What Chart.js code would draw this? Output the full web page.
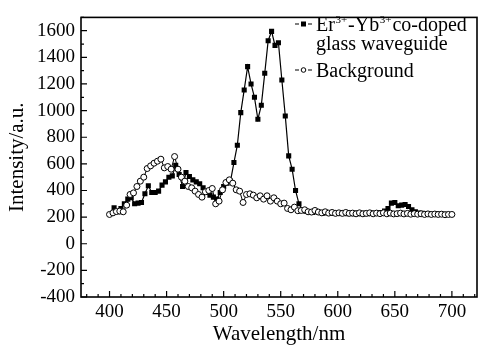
<!DOCTYPE html>
<html>
<head>
<meta charset="utf-8">
<script src="https://cdn.jsdelivr.net/npm/chart.js@4/dist/chart.umd.min.js"></script>
<style>
html,body{margin:0;padding:0;background:#fff;}
#wrap{width:482px;height:349px;position:relative;}
</style>
</head>
<body>
<div id="wrap"><canvas id="c" width="482" height="349"></canvas></div>
<script>
// ---- data ----
const erWavelength = [404,407,410,413,416,419,422,425,428,431,434,437,440,443,446,449,452,455,458,461,464,467,470,473,476,479,482,485,488,491,494,497,500,503,506,509,512,515,518,521,524,527,530,533,536,539,542,545,548,551,554,557,560,563,566,569,572,575,578,581,584,587,590,593,596,599,602,605,608,611,614,617,620,623,626,629,632,635,638,641,644,647,650,653,656,659,662,665,668,671,674,677,680,683,686,689,692,695,698];
const erIntensity = [270,240,265,300,335,345,300,305,310,375,435,385,385,395,440,465,500,510,590,520,430,535,505,480,465,450,420,385,365,350,335,385,430,455,470,610,740,985,1155,1330,1200,1100,935,1040,1280,1525,1595,1490,1510,1230,960,660,560,400,300,255,245,240,235,240,235,230,235,230,228,232,228,230,225,228,225,230,225,228,225,230,228,232,235,245,265,305,310,285,290,295,280,255,240,230,228,225,225,222,225,222,220,222,220];
const bgWavelength = [400,403,406,409,412,415,418,421,424,427,430,433,436,439,442,445,448,451,454,457,460,463,466,469,472,475,478,481,484,487,490,493,496,499,502,505,508,511,514,517,520,523,526,529,532,535,538,541,544,547,550,553,556,559,562,565,568,571,574,577,580,583,586,589,592,595,598,601,604,607,610,613,616,619,622,625,628,631,634,637,640,643,646,649,652,655,658,661,664,667,670,673,676,679,682,685,688,691,694,697,700];
const bgIntensity = [220,232,242,245,240,290,370,382,430,470,500,565,585,605,620,635,570,580,560,655,560,500,470,430,420,395,370,350,390,400,415,300,320,405,460,480,455,405,395,310,370,375,365,345,360,335,360,320,345,320,300,305,265,255,275,248,250,255,240,238,250,238,232,240,230,235,228,232,228,235,228,230,225,232,225,228,232,225,230,226,232,225,230,224,226,230,224,228,222,226,222,225,220,224,220,223,220,222,218,220,220];
const xTickLabels = [400,450,500,550,600,650,700];
const yTickLabels = [-400,-200,0,200,400,600,800,1000,1200,1400,1600];
const seriesNames = ["Er³⁺-Yb³⁺co-doped glass waveguide", "Background"];

const FONT = "'Liberation Serif','Times New Roman',serif";

function pairs(xs, ys){ return xs.map((x,i)=>({x:x, y:ys[i]})); }

const framePlugin = {
  id: 'frame',
  afterDatasetsDraw(chart){
    const ctx = chart.ctx, a = chart.chartArea;
    const xs = chart.scales.x, ys = chart.scales.y;
    ctx.save();
    ctx.strokeStyle = '#000';
    ctx.lineWidth = 1.6;
    ctx.strokeRect(a.left, a.top, a.right - a.left, a.bottom - a.top);
    ctx.lineWidth = 1.2;
    ctx.beginPath();
    for (let v = Math.ceil(xs.min/10)*10; v <= xs.max; v += 10){
      const px = xs.getPixelForValue(v);
      const len = (v % 50 === 0) ? 6 : 3;
      ctx.moveTo(px, a.bottom); ctx.lineTo(px, a.bottom - len);
    }
    for (let v = Math.ceil(ys.min/100)*100; v <= ys.max; v += 100){
      const py = ys.getPixelForValue(v);
      const len = (v % 200 === 0) ? 6 : 3;
      ctx.moveTo(a.left, py); ctx.lineTo(a.left + len, py);
    }
    ctx.stroke();
    ctx.restore();
  },
  afterDraw(chart){
    const ctx = chart.ctx;
    ctx.save();
    ctx.fillStyle = '#000';
    ctx.strokeStyle = '#000';
    ctx.textBaseline = 'alphabetic';
    const x0 = 295, tx = 316;
    function sample(y, filled){
      ctx.lineWidth = 1.2;
      ctx.beginPath();
      ctx.moveTo(x0, y); ctx.lineTo(x0+4, y);
      ctx.moveTo(x0+13, y); ctx.lineTo(x0+17, y);
      ctx.stroke();
      if (filled){
        ctx.fillRect(x0+6, y-2.5, 5, 5);
      } else {
        ctx.beginPath();
        ctx.arc(x0+8.5, y, 2.3, 0, Math.PI*2);
        ctx.fillStyle='#fff'; ctx.fill();
        ctx.lineWidth=1; ctx.stroke();
        ctx.fillStyle='#000';
      }
    }
    function seg(text, x, y, size){
      ctx.font = size + 'px ' + FONT;
      ctx.fillText(text, x, y);
      return x + ctx.measureText(text).width;
    }
    sample(24, true);
    let x = tx, base = 31;
    x = seg('Er', x, base, 20);
    x = seg('3+', x+0.5, base-8, 11);
    x = seg('-Yb', x+1, base, 20);
    x = seg('3+', x+0.5, base-8, 11);
    x = seg('co-doped', x+1, base, 20);
    seg('glass waveguide', tx, base+19, 20);
    sample(70, false);
    seg('Background', tx, 77, 20);
    ctx.restore();
  }
};

new Chart(document.getElementById('c'), {
  type: 'scatter',
  data: {
    datasets: [
      {
        label: seriesNames[1],
        data: pairs(bgWavelength, bgIntensity),
        showLine: true,
        borderColor: '#000',
        borderWidth: 1,
        pointStyle: 'circle',
        pointRadius: 3,
        pointBackgroundColor: '#fff',
        pointBorderColor: '#000',
        pointBorderWidth: 1,
        order: 0
      },
      {
        label: seriesNames[0],
        data: pairs(erWavelength, erIntensity),
        showLine: true,
        borderColor: '#000',
        borderWidth: 1.2,
        pointStyle: 'rect',
        pointRadius: 3.6,
        pointBackgroundColor: '#000',
        pointBorderColor: '#000',
        pointBorderWidth: 0,
        order: 1
      }
    ]
  },
  options: {
    responsive: false,
    animation: false,
    devicePixelRatio: 1,
    layout: { padding: { top: 5, right: 4, left: 0, bottom: 0 } },
    plugins: { legend: { display: false }, tooltip: { enabled: false } },
    scales: {
      x: {
        type: 'linear',
        min: 375, max: 722,
        afterBuildTicks(s){ s.ticks = xTickLabels.map(v=>({value:v})); },
        afterFit(s){ s.height = 52; },
        grid: { display: false, drawTicks: false },
        border: { display: false },
        ticks: { color: '#000', font: { family: FONT, size: 19 }, padding: 4, maxRotation: 0, callback: v => String(v) },
        title: { display: true, text: 'Wavelength/nm', color: '#000', font: { family: FONT, size: 21 }, padding: { top: 0, bottom: 2 } }
      },
      y: {
        type: 'linear',
        min: -400, max: 1700,
        afterBuildTicks(s){ s.ticks = yTickLabels.map(v=>({value:v})); },
        afterFit(s){ s.width = 81; },
        grid: { display: false, drawTicks: false },
        border: { display: false },
        ticks: { color: '#000', font: { family: FONT, size: 19 }, padding: 6, callback: v => String(v) },
        title: { display: true, text: 'Intensity/a.u.', color: '#000', font: { family: FONT, size: 21 }, padding: { top: 5, bottom: 0 } }
      }
    }
  },
  plugins: [framePlugin]
});
</script>
</body>
</html>
